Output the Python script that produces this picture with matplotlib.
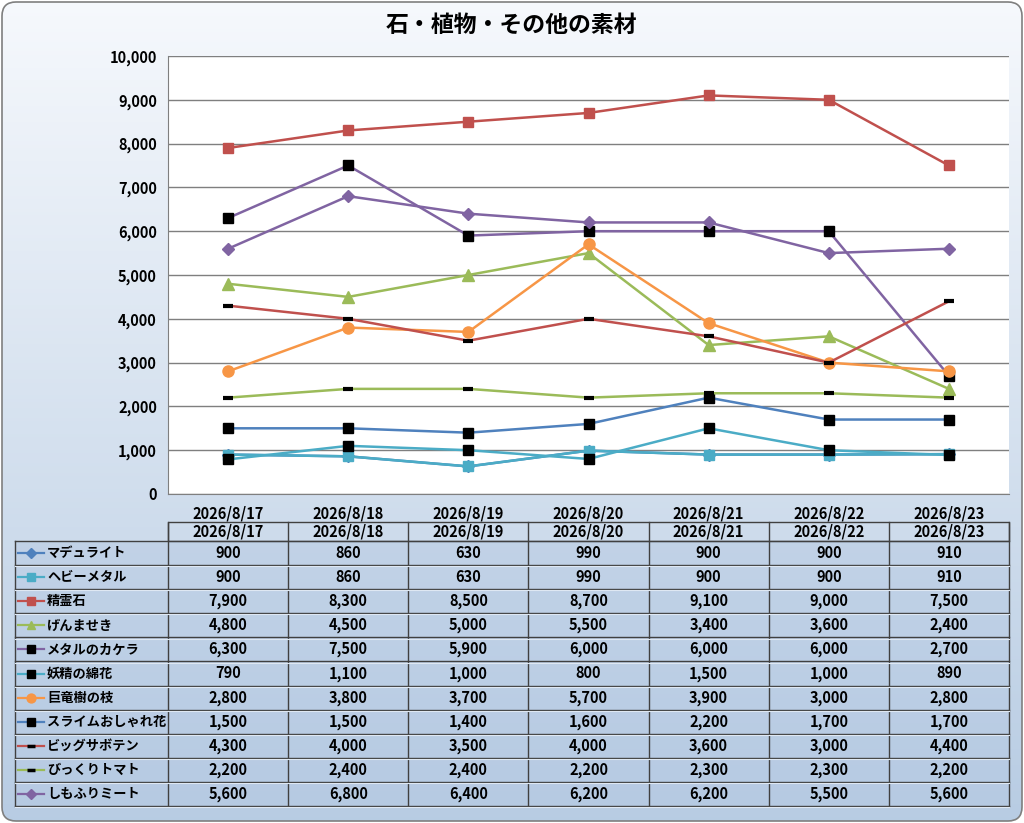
import numpy as np
import matplotlib
matplotlib.use('Agg')
from matplotlib import pyplot as plt
from matplotlib.patches import FancyBboxPatch, Rectangle
from matplotlib.lines import Line2D
from matplotlib.ticker import FuncFormatter

plt.rcParams['font.family'] = ['Noto Sans CJK JP', 'DejaVu Sans']

title = '石・植物・その他の素材'
dates = ['2026/8/17', '2026/8/18', '2026/8/19', '2026/8/20', '2026/8/21', '2026/8/22', '2026/8/23']

names = ['マデュライト', 'ヘビーメタル', '精霊石', 'げんませき', 'メタルのカケラ', '妖精の綿花',
         '巨竜樹の枝', 'スライムおしゃれ花', 'ビッグサボテン', 'びっくりトマト', 'しもふりミート']

madurite = [900, 860, 630, 990, 900, 900, 910]
heavy_metal = [900, 860, 630, 990, 900, 900, 910]
seireiseki = [7900, 8300, 8500, 8700, 9100, 9000, 7500]
genmaseki = [4800, 4500, 5000, 5500, 3400, 3600, 2400]
metal_kakera = [6300, 7500, 5900, 6000, 6000, 6000, 2700]
yousei_wata = [790, 1100, 1000, 800, 1500, 1000, 890]
kyoryuju = [2800, 3800, 3700, 5700, 3900, 3000, 2800]
slime_hana = [1500, 1500, 1400, 1600, 2200, 1700, 1700]
big_saboten = [4300, 4000, 3500, 4000, 3600, 3000, 4400]
bikkuri_tomato = [2200, 2400, 2400, 2200, 2300, 2300, 2200]
shimofuri = [5600, 6800, 6400, 6200, 6200, 5500, 5600]

values = [madurite, heavy_metal, seireiseki, genmaseki, metal_kakera, yousei_wata,
          kyoryuju, slime_hana, big_saboten, bikkuri_tomato, shimofuri]

# line colour, marker, marker colour, marker size
styles = [
    ('#4f81bd', 'D', '#4f81bd', 6),
    ('#4bacc6', 's', '#4bacc6', 7),
    ('#c0504d', 's', '#c0504d', 7),
    ('#9bbb59', '^', '#9bbb59', 8),
    ('#8064a2', 's', 'black', 7),
    ('#4bacc6', 's', 'black', 7),
    ('#f79646', 'o', '#f79646', 8),
    ('#4f81bd', 's', 'black', 7),
    ('#c0504d', '_', 'black', 7),
    ('#9bbb59', '_', 'black', 7),
    ('#8064a2', 'D', '#8064a2', 6),
]

W, H = 1024, 823
fig = plt.figure(figsize=(W / 100, H / 100), dpi=100)

# background with gradient and rounded border
bg = fig.add_axes([0, 0, 1, 1])
bg.set_xlim(0, W)
bg.set_ylim(H, 0)
bg.axis('off')
grad = np.linspace(0, 1, 256).reshape(-1, 1)
top = np.array([0.965, 0.975, 0.99])
bot = np.array([0.72, 0.80, 0.89])
img = top + (bot - top) * grad[..., None]
im = bg.imshow(img, extent=[0, W, H, 0], aspect='auto', zorder=0)
frame = FancyBboxPatch((2, 2), W - 4, H - 4, boxstyle='round,pad=0,rounding_size=14',
                       transform=bg.transData, facecolor='none', edgecolor='#7f7f7f', lw=1.2, zorder=1)
bg.add_patch(frame)
im.set_clip_path(frame)

bg.text(W / 2, 25, title, ha='center', va='center', fontsize=16.5, fontweight='bold')

# chart
px_l, px_r, px_t, px_b = 168, 1009, 56, 494
ax = fig.add_axes([px_l / W, (H - px_b) / H, (px_r - px_l) / W, (px_b - px_t) / H])
x = np.arange(len(dates))
for vals, (lc, mk, mc, ms) in zip(values, styles):
    mew = 3 if mk == '_' else 1
    ax.plot(x, vals, color=lc, lw=1.8, marker=mk, markersize=ms,
            markerfacecolor=mc, markeredgecolor=mc, markeredgewidth=mew, zorder=3)
ax.set_xlim(-0.5, len(dates) - 0.5)
ax.set_ylim(0, 10000)
ax.set_yticks(np.arange(0, 10001, 1000))
ax.yaxis.set_major_formatter(FuncFormatter(lambda v, p: f'{int(v):,}'))
ax.set_xticks(x)
ax.set_xticklabels(dates)
ax.grid(axis='y', color='#7f7f7f', lw=1)
ax.set_axisbelow(True)
for s in ['top', 'right']:
    ax.spines[s].set_visible(False)
for s in ['left', 'bottom']:
    ax.spines[s].set_color('#7f7f7f')
ax.tick_params(length=0, labelsize=10.5, pad=8)
for t in ax.get_xticklabels() + ax.get_yticklabels():
    t.set_fontweight('bold')

# data table
tab_l, lab_r = 15, 168
head_t, head_b = 522, 541
row_h = (806 - head_b) / len(names)
col_w = (px_r - lab_r) / len(dates)
lc_tab = '#404040'

bg.add_patch(Rectangle((lab_r, head_t), px_r - lab_r, head_b - head_t, fill=False, ec=lc_tab, lw=1))
for j, d in enumerate(dates):
    cx = lab_r + col_w * j
    bg.add_line(Line2D([cx, cx], [head_t, 806], color=lc_tab, lw=1))
    bg.text(cx + col_w / 2, (head_t + head_b) / 2, d, ha='center', va='center',
            fontsize=10.5, fontweight='bold')
bg.add_line(Line2D([px_r, px_r], [head_t, 806], color=lc_tab, lw=1))
bg.add_line(Line2D([tab_l, tab_l], [head_b, 806], color=lc_tab, lw=1))

for i, (name, vals, (lc, mk, mc, ms)) in enumerate(zip(names, values, styles)):
    y0 = head_b + row_h * i
    yc = y0 + row_h / 2
    bg.add_patch(Rectangle((tab_l, y0 + 1), px_r - tab_l, row_h - 1,
                           facecolor='#b4c8e2', alpha=0.45, lw=0, zorder=1))
    bg.add_line(Line2D([tab_l, px_r], [y0 + row_h, y0 + row_h], color=lc_tab, lw=1, zorder=2))
    bg.add_line(Line2D([tab_l, px_r], [y0 + row_h + 1.2, y0 + row_h + 1.2], color='#dfe8f3', lw=0.8, zorder=2))
    bg.add_line(Line2D([18, 44], [yc, yc], color=lc, lw=1.6, zorder=3))
    mew = 2.5 if mk == '_' else 1
    bg.add_line(Line2D([31], [yc], marker=mk, markersize=ms * 0.8, markerfacecolor=mc,
                       markeredgecolor=mc, markeredgewidth=mew, zorder=4))
    bg.text(47, yc, name, ha='left', va='center', fontsize=9.5, fontweight='bold', zorder=4)
    for j, v in enumerate(vals):
        bg.text(lab_r + col_w * (j + 0.5), yc, f'{v:,}', ha='center', va='center',
                fontsize=10.5, fontweight='bold', zorder=4)
bg.add_line(Line2D([tab_l, px_r], [head_b, head_b], color=lc_tab, lw=1, zorder=2))

fig.savefig('out.png', dpi=100)
